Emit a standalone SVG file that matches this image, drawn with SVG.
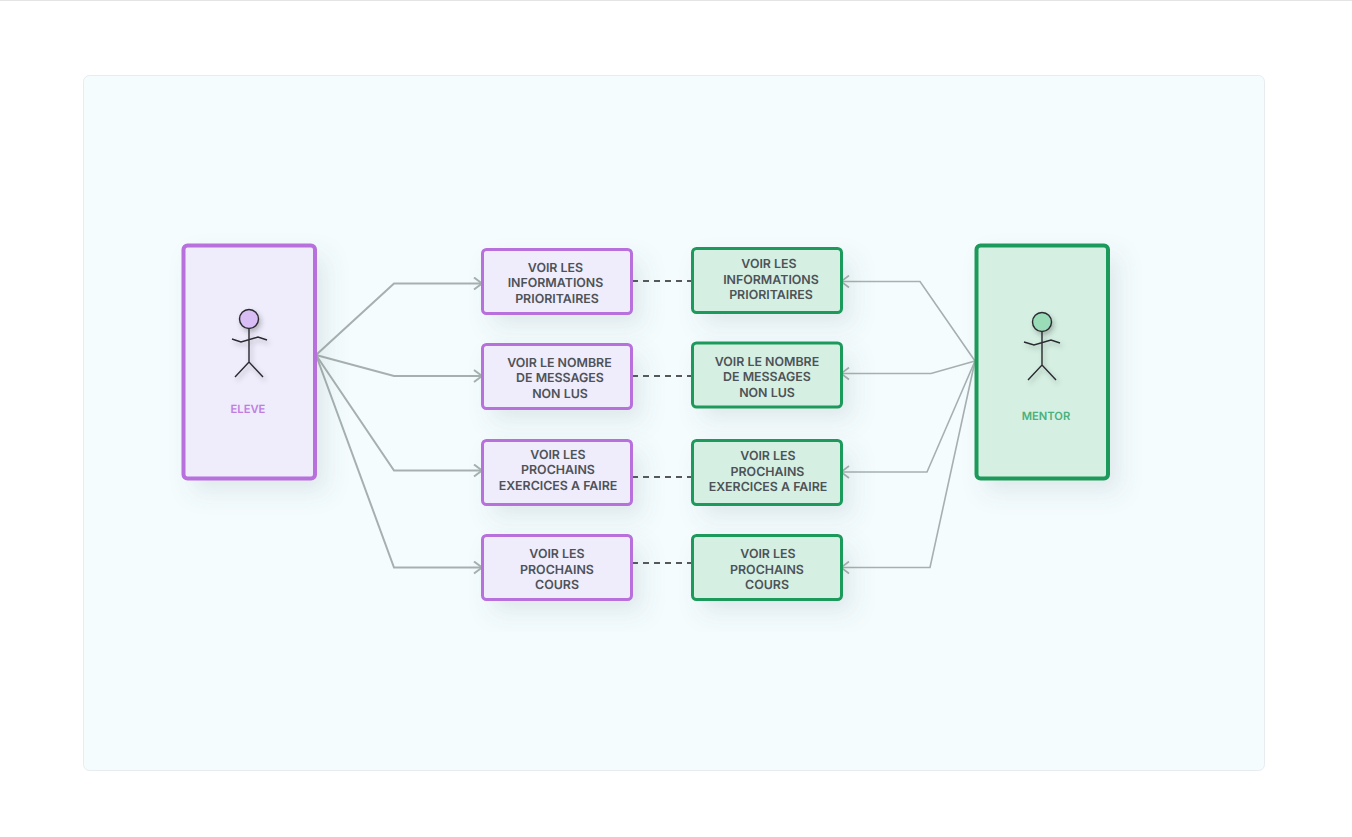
<svg xmlns="http://www.w3.org/2000/svg" width="1352" height="837" viewBox="0 0 1352 837">
<style>
text{font-family:Inter,Roboto,"Liberation Sans",sans-serif;font-weight:600;text-anchor:middle;text-rendering:geometricPrecision}
.t{font-size:12.4px;fill:#4d5257}
.a{font-size:11.2px}
.p{fill:#efecfc;stroke:#b86fdc;stroke-width:3}
.g{fill:#d5f0e3;stroke:#1f9a5b;stroke-width:3}
.sh{filter:url(#shadow)}
.c{fill:none;stroke:#a7b0b0;stroke-width:2}
.c2{fill:none;stroke:#a7b0b0;stroke-width:1.6}
.d{fill:none;stroke:#222;stroke-width:1.3;stroke-dasharray:6 5}
.f{fill:none;stroke:#2a2a30;stroke-width:1.4}
.h{stroke:#2a2a30;stroke-width:1.4}
</style>
<defs>
<filter id="shadow" x="-40%" y="-40%" width="190%" height="190%"><feDropShadow dx="10" dy="12" stdDeviation="11" flood-color="#5a6b70" flood-opacity="0.13"/></filter>
<filter id="ss" x="-50%" y="-50%" width="200%" height="200%"><feDropShadow dx="2" dy="3" stdDeviation="2.5" flood-color="#333" flood-opacity="0.3"/></filter>
<marker id="a" viewBox="0 0 12 14" refX="11" refY="7" markerWidth="12" markerHeight="14" markerUnits="userSpaceOnUse" orient="auto"><path d="M3 1 L11 7 L3 13" fill="none" stroke="#a7b0b0" stroke-width="2"/></marker>
<marker id="b" viewBox="0 0 12 14" refX="11" refY="7" markerWidth="12" markerHeight="14" markerUnits="userSpaceOnUse" orient="auto"><path d="M3 1 L11 7 L3 13" fill="none" stroke="#a7b0b0" stroke-width="1.6"/></marker>
</defs>
<rect width="1352" height="837" fill="#fff"/>
<rect width="1352" height="1" fill="#e4e4e4"/>
<rect x="83.500" y="75.500" width="1181" height="695" rx="6" fill="#f4fcfe" stroke="#e6ecef"/>
<g id="connectors">
<path class="c" marker-end="url(#a)" d="M316 355 L394 283.500 H482"/>
<path class="c" marker-end="url(#a)" d="M316 355 L394 376 H482"/>
<path class="c" marker-end="url(#a)" d="M316 355 L394 470.500 H482"/>
<path class="c" marker-end="url(#a)" d="M316 355 L394 567.500 H482"/>
<path class="c2" marker-end="url(#b)" d="M975 361 L920 281.500 H841"/>
<path class="c2" marker-end="url(#b)" d="M975 361 L931 373.500 H841"/>
<path class="c2" marker-end="url(#b)" d="M975 361 L927 472 H841"/>
<path class="c2" marker-end="url(#b)" d="M975 361 L930 567.500 H841"/>
<path class="d" d="M632 281 H691"/>
<path class="d" d="M632 376 H691"/>
<path class="d" d="M632 477 H691"/>
<path class="d" d="M632 563 H691"/>
</g>
<g id="eleve">
<rect class="p sh" x="183.500" y="245.500" width="131.500" height="233" rx="4" style="stroke-width:4"/>
<g filter="url(#ss)"><circle cx="249" cy="319" r="9.500" fill="#d9bdf5" class="h"/>
<path class="f" d="M249 329 V362 M232 339 L241 342 L258 337 L267 340 M235 377 L249 362 L263 377"/></g>
<text class="a" x="248" y="413" style="fill:#c07fe0">ELEVE</text>
</g>
<g id="mentor">
<rect class="g sh" x="976.500" y="245.500" width="131.500" height="233" rx="4" style="stroke-width:4"/>
<g filter="url(#ss)"><circle cx="1042" cy="322" r="9.500" fill="#9adcb8" class="h"/>
<path class="f" d="M1042 332 V365 M1024 342 L1034 345 L1051 340 L1060 343 M1028 380 L1042 365 L1056 380"/></g>
<text class="a" x="1046" y="420" style="fill:#4cb07c">MENTOR</text>
</g>
<g id="e1"><rect class="p sh" x="482.500" y="249.500" width="149" height="64" rx="4"/><text class="t"><tspan x="555.500" y="272">VOIR LES</tspan><tspan x="555.500" y="287">INFORMATIONS</tspan><tspan x="557" y="303">PRIORITAIRES</tspan></text></g>
<g id="e2"><rect class="p sh" x="482.500" y="344.500" width="149" height="64" rx="4"/><text class="t"><tspan x="559.500" y="367">VOIR LE NOMBRE</tspan><tspan x="560" y="382">DE MESSAGES</tspan><tspan x="560" y="398">NON LUS</tspan></text></g>
<g id="e3"><rect class="p sh" x="482.500" y="440.500" width="149" height="64" rx="4"/><text class="t"><tspan x="558" y="459">VOIR LES</tspan><tspan x="558" y="474">PROCHAINS</tspan><tspan x="558" y="490">EXERCICES A FAIRE</tspan></text></g>
<g id="e4"><rect class="p sh" x="482.500" y="535.500" width="149" height="64" rx="4"/><text class="t"><tspan x="557" y="558">VOIR LES</tspan><tspan x="557" y="573.500">PROCHAINS</tspan><tspan x="557" y="589">COURS</tspan></text></g>
<g id="m1"><rect class="g sh" x="692.500" y="248.500" width="149" height="64" rx="4"/><text class="t"><tspan x="769" y="268">VOIR LES</tspan><tspan x="771" y="283.500">INFORMATIONS</tspan><tspan x="771" y="299">PRIORITAIRES</tspan></text></g>
<g id="m2"><rect class="g sh" x="692.500" y="343" width="149" height="64" rx="4"/><text class="t"><tspan x="767" y="366">VOIR LE NOMBRE</tspan><tspan x="767" y="381">DE MESSAGES</tspan><tspan x="767" y="397">NON LUS</tspan></text></g>
<g id="m3"><rect class="g sh" x="692.500" y="440.500" width="149" height="64" rx="4"/><text class="t"><tspan x="768" y="460">VOIR LES</tspan><tspan x="767.500" y="475.500">PROCHAINS</tspan><tspan x="768" y="491">EXERCICES A FAIRE</tspan></text></g>
<g id="m4"><rect class="g sh" x="692.500" y="535.500" width="149" height="64" rx="4"/><text class="t"><tspan x="768" y="558">VOIR LES</tspan><tspan x="767" y="573.500">PROCHAINS</tspan><tspan x="767" y="589">COURS</tspan></text></g>
</svg>
